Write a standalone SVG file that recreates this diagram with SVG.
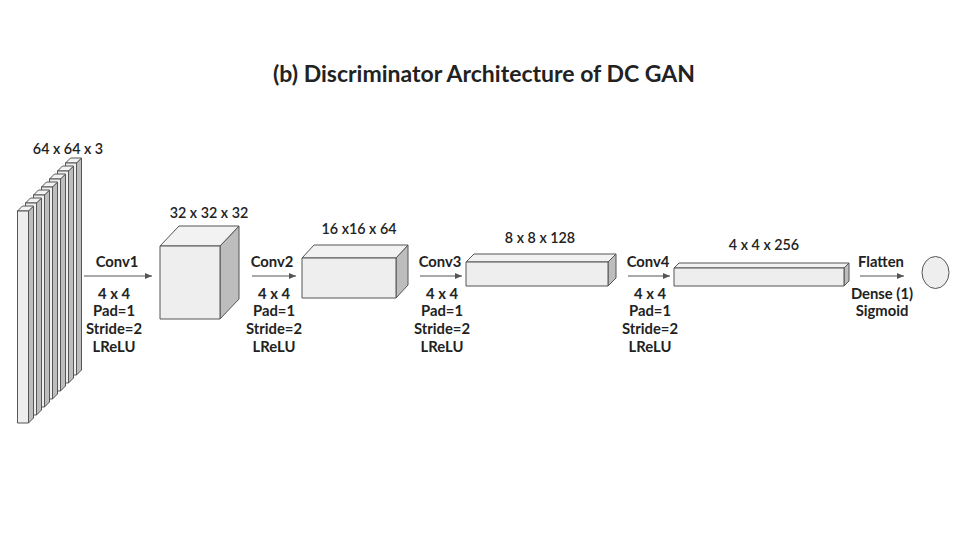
<svg xmlns="http://www.w3.org/2000/svg" width="960" height="540" viewBox="0 0 960 540">
<defs>
<style>
text{font-family:Lato,"Liberation Sans",sans-serif;fill:#222;text-anchor:middle}
.t{font-size:23px;font-weight:bold}
.l{font-size:14.8px;font-weight:bold}
.d{font-size:14.3px;font-weight:600}
.f{fill:#eeeeee;stroke:#555;stroke-width:1;stroke-linejoin:round}
.s{fill:#bdbdbd;stroke:#555;stroke-width:1;stroke-linejoin:round}
.tp{fill:#f2f2f2;stroke:#555;stroke-width:1;stroke-linejoin:round}
.a{stroke:#555;stroke-width:1;fill:none}
</style>
<marker id="ah" markerWidth="8" markerHeight="6" refX="7" refY="3" orient="auto" markerUnits="userSpaceOnUse">
<path d="M0,0 L7,3 L0,6 z" fill="#555"/>
</marker>
<g id="slab">
<polygon class="s" points="11,0 16,-5 16,207 11,212"/>
<polygon class="tp" points="0,0 5,-5 16,-5 11,0"/>
<rect class="f" x="0" y="0" width="11" height="212"/>
</g>
</defs>
<rect width="960" height="540" fill="#fff"/>
<text class="t" x="484" y="82">(b) Discriminator Architecture of DC GAN</text>

<g id="input">
<use href="#slab" x="65.5" y="163"/>
<use href="#slab" x="57.5" y="171"/>
<use href="#slab" x="49.5" y="179"/>
<use href="#slab" x="41.5" y="187"/>
<use href="#slab" x="33.5" y="195"/>
<use href="#slab" x="25.5" y="203"/>
<use href="#slab" x="17.5" y="211"/>
<text class="d" x="68" y="154">64 x 64 x 3</text>
</g>

<g id="conv1-out">
<polygon class="s" points="220,246 239,226 239,299 220,319"/>
<polygon class="tp" points="160,246 179,226 239,226 220,246"/>
<rect class="f" x="160" y="246" width="60" height="73"/>
<text class="d" x="209" y="218">32 x 32 x 32</text>
</g>

<g id="conv2-out">
<polygon class="s" points="396,258 408,245 408,285 396,298"/>
<polygon class="tp" points="302,258 314,245 408,245 396,258"/>
<rect class="f" x="302" y="258" width="94" height="40"/>
<text class="d" x="359" y="234">16 x16 x 64</text>
</g>

<g id="conv3-out">
<polygon class="s" points="608,262 616,254 616,278 608,286"/>
<polygon class="tp" points="466,262 474,254 616,254 608,262"/>
<rect class="f" x="466" y="262" width="142" height="24"/>
<text class="d" x="540" y="243">8 x 8 x 128</text>
</g>

<g id="conv4-out">
<polygon class="s" points="844,268 849,263 849,281 844,286"/>
<polygon class="tp" points="674,268 679,263 849,263 844,268"/>
<rect class="f" x="674" y="268" width="170" height="18"/>
<text class="d" x="764" y="250">4 x 4 x 256</text>
</g>

<g id="output">
<ellipse class="f" cx="935.5" cy="272.5" rx="13.5" ry="16"/>
</g>

<g id="connectors">
<line class="a" x1="84" y1="276" x2="152" y2="276" marker-end="url(#ah)"/>
<line class="a" x1="252" y1="276" x2="296" y2="276" marker-end="url(#ah)"/>
<line class="a" x1="420" y1="276" x2="462" y2="276" marker-end="url(#ah)"/>
<line class="a" x1="628" y1="276" x2="670" y2="276" marker-end="url(#ah)"/>
<line class="a" x1="860" y1="276" x2="904" y2="276" marker-end="url(#ah)"/>
</g>

<g id="labels">
<text class="l" x="117" y="267">Conv1</text>
<text class="l" x="114" y="299">4 x 4</text>
<text class="l" x="114" y="316">Pad=1</text>
<text class="l" x="114" y="334">Stride=2</text>
<text class="l" x="114" y="352">LReLU</text>

<text class="l" x="272" y="267">Conv2</text>
<text class="l" x="274" y="299">4 x 4</text>
<text class="l" x="274" y="316">Pad=1</text>
<text class="l" x="274" y="334">Stride=2</text>
<text class="l" x="274" y="352">LReLU</text>

<text class="l" x="440" y="267">Conv3</text>
<text class="l" x="442" y="299">4 x 4</text>
<text class="l" x="442" y="316">Pad=1</text>
<text class="l" x="442" y="334">Stride=2</text>
<text class="l" x="442" y="352">LReLU</text>

<text class="l" x="648" y="267">Conv4</text>
<text class="l" x="650" y="299">4 x 4</text>
<text class="l" x="650" y="316">Pad=1</text>
<text class="l" x="650" y="334">Stride=2</text>
<text class="l" x="650" y="352">LReLU</text>

<text class="l" x="881" y="267">Flatten</text>
<text class="l" x="882" y="299">Dense (1)</text>
<text class="l" x="882" y="316">Sigmoid</text>
</g>
</svg>
